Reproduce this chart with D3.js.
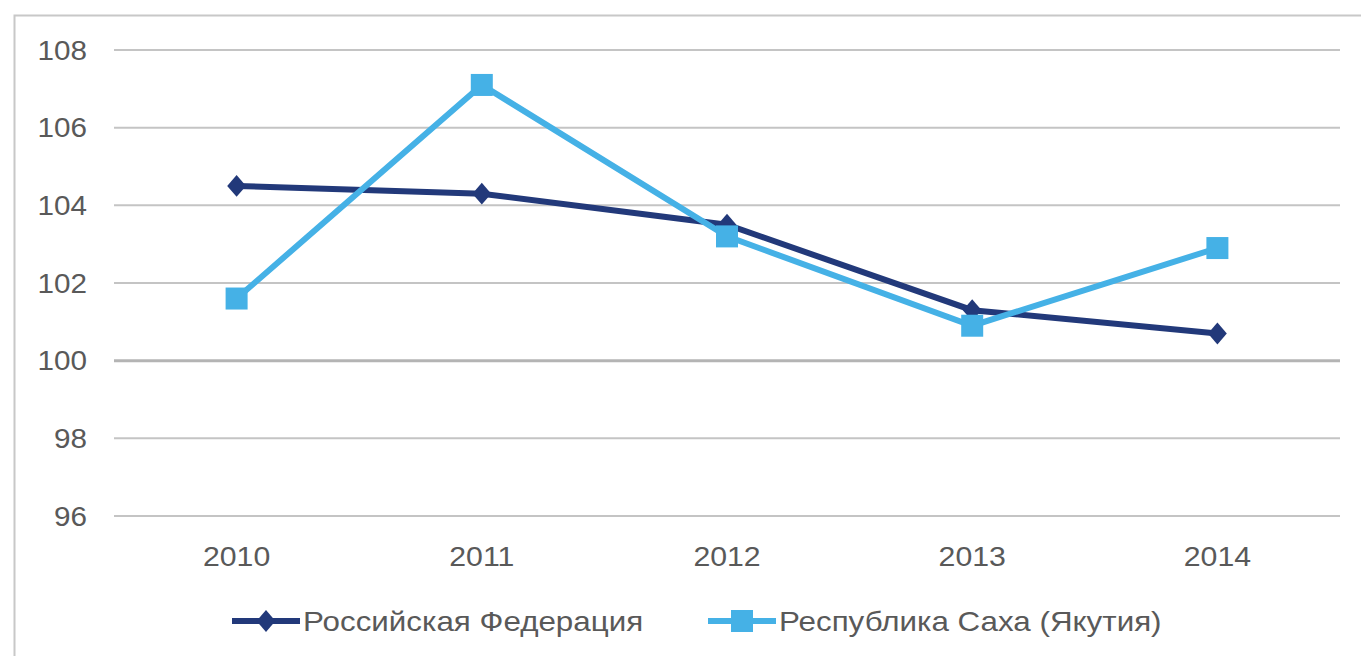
<!DOCTYPE html>
<html>
<head>
<meta charset="utf-8">
<script src="https://cdn.jsdelivr.net/npm/d3@7"></script>
<style>
  body { margin: 0; background: #fff; }
  text { font-family: "Liberation Sans", Arial, sans-serif; fill: #595959; }
</style>
</head>
<body>
<svg></svg>
<script>
var width = 1361;
var height = 656;

var years = ['2010', '2011', '2012', '2013', '2014'];
var russia = [104.5, 104.3, 103.5, 101.3, 100.7];
var sakha = [101.6, 107.1, 103.2, 100.9, 102.9];
var yTicks = [96, 98, 100, 102, 104, 106, 108];
var names = ['Российская Федерация', 'Республика Саха (Якутия)'];

var svg = d3.select('svg')
    .attr('width', width)
    .attr('height', height);

// outer frame (left + top only visible)
svg.append('path')
    .attr('d', 'M14.5,' + height + 'V15.5H' + width)
    .attr('fill', 'none')
    .attr('stroke', '#c8c8c8')
    .attr('stroke-width', 2);

var x = d3.scalePoint()
    .domain(years)
    .range([114, 1340])
    .padding(0.5);

var y = d3.scaleLinear()
    .domain([96, 108])
    .range([516, 50]);

// grid
svg.selectAll('.grid')
    .data(yTicks)
    .enter()
    .append('line')
    .attr('x1', 114)
    .attr('x2', 1340)
    .attr('y1', function (d) { return y(d); })
    .attr('y2', function (d) { return y(d); })
    .attr('stroke', function (d) { return d === 100 ? '#b4b4b4' : '#c4c4c4'; })
    .attr('stroke-width', function (d) { return d === 100 ? 3 : 2; });

svg.selectAll('.ylab')
    .data(yTicks)
    .enter()
    .append('text')
    .attr('transform', function (d) { return 'translate(87,' + y(d) + ') scale(1.06,1)'; })
    .attr('dy', '0.35em')
    .attr('text-anchor', 'end')
    .style('font-size', '28px')
    .text(function (d) { return d; });

svg.selectAll('.xlab')
    .data(years)
    .enter()
    .append('text')
    .attr('transform', function (d) { return 'translate(' + x(d) + ',556) scale(1.08,1)'; })
    .attr('dy', '0.35em')
    .attr('text-anchor', 'middle')
    .style('font-size', '28px')
    .text(function (d) { return d; });

var line = d3.line()
    .x(function (d, i) { return x(years[i]); })
    .y(function (d) { return y(d); });

var diamond = d3.symbol().type(d3.symbolDiamond2).size(250);

function drawSeries(values, color, isSquare) {
    svg.append('path')
        .datum(values)
        .attr('d', line)
        .attr('fill', 'none')
        .attr('stroke', color)
        .attr('stroke-width', 6);

    var g = svg.selectAll(null)
        .data(values)
        .enter()
        .append('g')
        .attr('transform', function (d, i) {
            return 'translate(' + x(years[i]) + ',' + y(d) + ')';
        });
    if (isSquare) {
        g.append('rect')
            .attr('x', -11).attr('y', -11)
            .attr('width', 22).attr('height', 22)
            .attr('fill', color);
    } else {
        g.append('path')
            .attr('d', diamond)
            .attr('transform', 'scale(0.95,1.1)')
            .attr('fill', color);
    }
}

drawSeries(russia, '#22397a', false);
drawSeries(sakha, '#45b1e6', true);

// legend
var legend = [
    { name: names[0], color: '#22397a', x: 232, square: false },
    { name: names[1], color: '#45b1e6', x: 708, square: true }
];

legend.forEach(function (d) {
    var ly = 621;
    svg.append('line')
        .attr('x1', d.x).attr('x2', d.x + 68)
        .attr('y1', ly).attr('y2', ly)
        .attr('stroke', d.color)
        .attr('stroke-width', 6);
    if (d.square) {
        svg.append('rect')
            .attr('x', d.x + 34 - 11).attr('y', ly - 11)
            .attr('width', 22).attr('height', 22)
            .attr('fill', d.color);
    } else {
        svg.append('path')
            .attr('transform', 'translate(' + (d.x + 34) + ',' + ly + ') scale(0.95,1.1)')
            .attr('d', diamond)
            .attr('fill', d.color);
    }
    svg.append('text')
        .attr('transform', 'translate(' + (d.x + 71) + ',' + ly + ') scale(1.12,1)')
        .attr('dy', '0.35em')
        .style('font-size', '28px')
        .text(d.name);
});
</script>
</body>
</html>
